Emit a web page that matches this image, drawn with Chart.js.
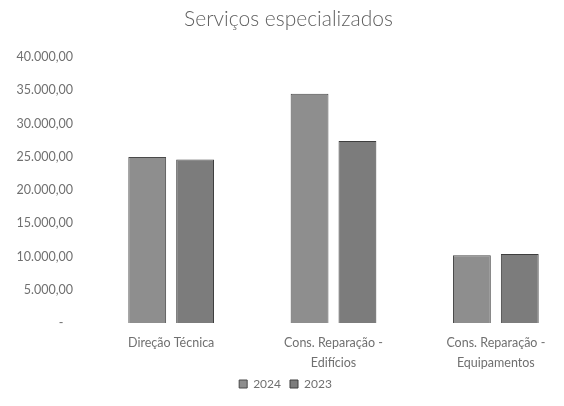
<!DOCTYPE html>
<html>
<head>
<meta charset="utf-8">
<script src="https://cdn.jsdelivr.net/npm/chart.js@4"></script>
<style>
  html, body { margin: 0; padding: 0; background: #fff; overflow: hidden; }
  #wrap { position: relative; width: 580px; height: 406px; }
</style>
</head>
<body>
<div id="wrap"><canvas id="servicosChart"></canvas></div>
<script>
// Categories and values
const categories = [
    'Direção Técnica',
    ['Cons. Reparação -', 'Edifícios'],
    ['Cons. Reparação -', 'Equipamentos']
];
const values2024 = [25000, 34500, 10200];
const values2023 = [24600, 27400, 10400];
const yTicks = [0, 5000, 10000, 15000, 20000, 25000, 30000, 35000, 40000];

// 40000 -> "40.000,00", 0 -> "-"
function formatEuro(v) {
    if (v === 0) return '-   ';
    const whole = Math.round(v).toString().replace(/\B(?=(\d{3})+(?!\d))/g, '.');
    return whole + ',00';
}

const textColor = '#707070';
const fontFamily = 'Lato, "Open Sans", sans-serif';

const config = {
    type: 'bar',
    data: {
        labels: categories,
        datasets: [{
            label: '2024',
            data: values2024,
            backgroundColor: '#8e8e8e',
            borderColor: '#4a4a4a',
            borderWidth: 1,
            categoryPercentage: 0.59,
            barPercentage: 0.79
        }, {
            label: '2023',
            data: values2023,
            backgroundColor: '#7c7c7c',
            borderColor: '#3e3e3e',
            borderWidth: 1,
            categoryPercentage: 0.59,
            barPercentage: 0.79
        }]
    },
    options: {
        responsive: true,
        maintainAspectRatio: false,
        animation: false,
        layout: { padding: { left: 0, right: 3, top: 0, bottom: 6 } },
        plugins: {
            title: {
                display: true,
                text: 'Serviços especializados',
                color: '#5f5f5f',
                font: { family: fontFamily, size: 21, weight: 300 },
                padding: { top: 7, bottom: 25 }
            },
            legend: {
                position: 'bottom',
                labels: {
                    color: textColor,
                    font: { family: fontFamily, size: 12 },
                    boxWidth: 8,
                    boxHeight: 8,
                    padding: 3,
                    // a little extra room between the two items
                    generateLabels: chart =>
                        Chart.defaults.plugins.legend.labels.generateLabels(chart)
                            .map(item => ({ ...item, text: item.text + '\u2002' }))
                }
            },
            tooltip: { enabled: false }
        },
        scales: {
            x: {
                afterFit: axis => { axis.height = 52; },
                grid: { display: false, drawTicks: false },
                border: { display: false },
                ticks: {
                    color: textColor,
                    font: { family: fontFamily, size: 12.5, lineHeight: 1.6 },
                    padding: 10,
                    maxRotation: 0,
                    autoSkip: false
                }
            },
            y: {
                min: 0,
                max: 40000,
                afterBuildTicks: axis => { axis.ticks = yTicks.map(v => ({ value: v })); },
                afterFit: axis => { axis.width = 90; },
                grid: { display: false, drawTicks: false },
                border: { display: false },
                ticks: {
                    color: textColor,
                    font: { family: fontFamily, size: 12.5 },
                    padding: 17,
                    callback: v => formatEuro(v)
                }
            }
        }
    }
};

const servicosChart = new Chart(document.getElementById('servicosChart'), config);
</script>
</body>
</html>
